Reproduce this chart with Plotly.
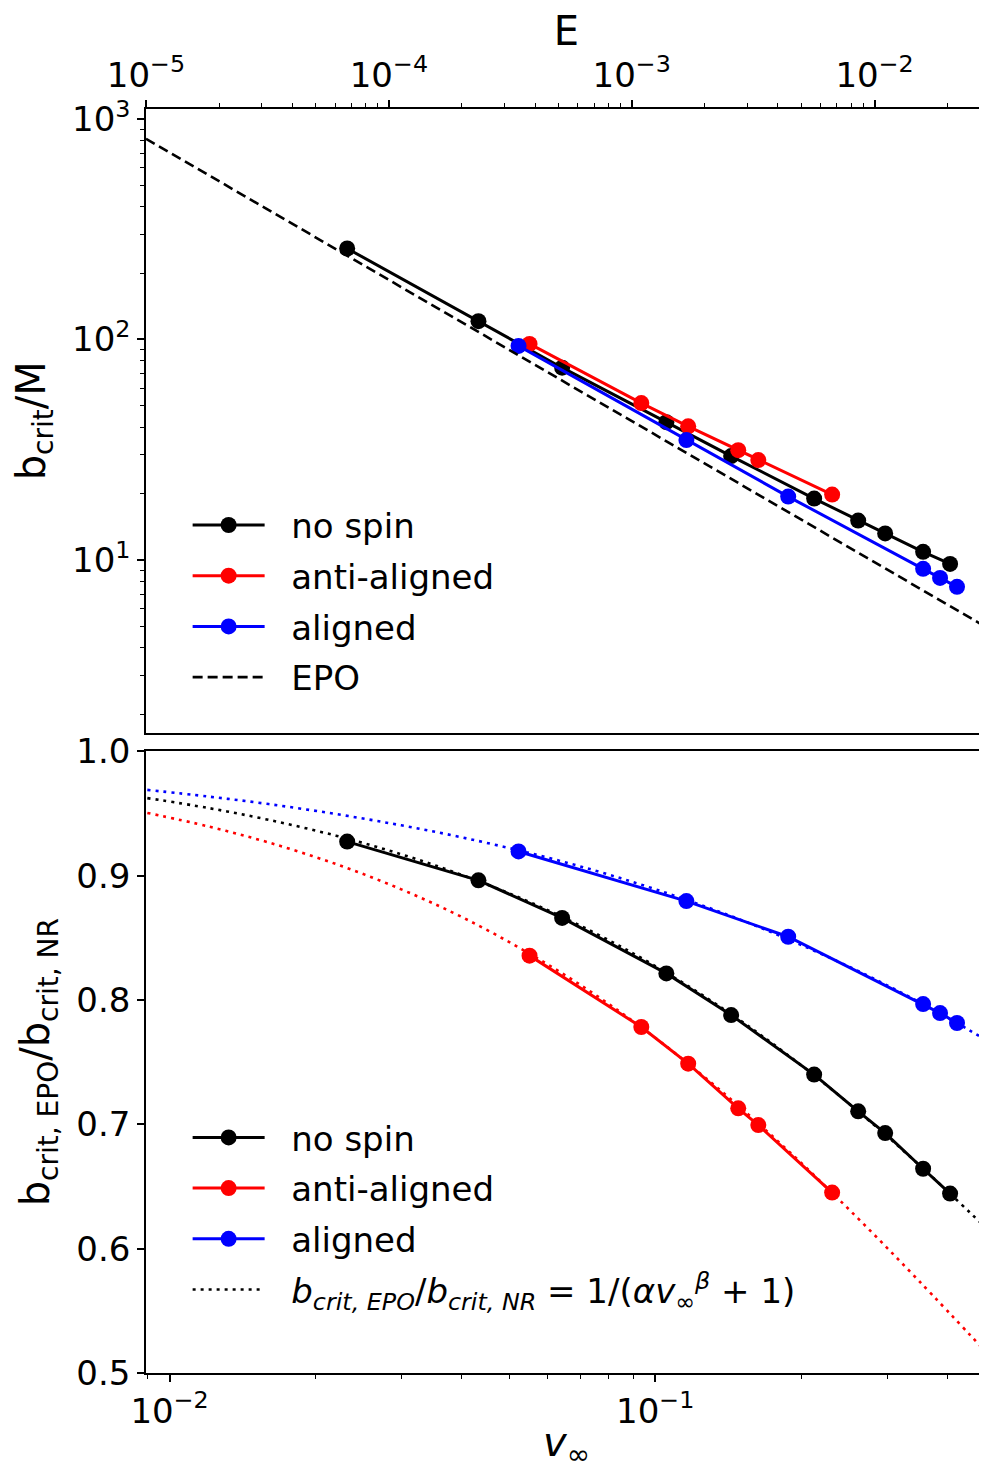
import numpy as np
import plotly.graph_objects as go

# ---------------- data ----------------
# no spin
v_nospin = [0.02321, 0.04325, 0.0643, 0.1054, 0.1433, 0.2124, 0.2617, 0.2974, 0.3560, 0.4046]
b_nospin = [258.6, 121.1, 74.5, 42.2, 29.6, 19.0, 15.1, 13.2, 10.9, 9.6]
r_nospin = [0.9274, 0.8963, 0.8660, 0.8214, 0.7879, 0.7400, 0.7105, 0.6930, 0.6643, 0.6443]
# anti-aligned
v_anti = [0.0551, 0.0936, 0.1169, 0.1482, 0.1630, 0.2313]
b_anti = [95.5, 51.5, 40.4, 31.5, 28.4, 19.8]
r_anti = [0.8357, 0.7783, 0.7488, 0.7129, 0.6994, 0.6451]
# aligned
v_al = [0.0523, 0.1159, 0.1878, 0.356, 0.3858, 0.4181]
b_al = [93.5, 35.0, 19.4, 9.12, 8.30, 7.56]
r_al = [0.9195, 0.8796, 0.8509, 0.7967, 0.7895, 0.7815]
# EPO line (end points read at the panel edges)
v_epo = [0.008944, 0.482]
b_epo = [813.0, 4.94]
# dotted fit curves
v_fit = [0.009, 0.012, 0.016, 0.022, 0.03, 0.04, 0.055, 0.075, 0.1, 0.14, 0.19, 0.26, 0.35, 0.482]
r_fit_nospin = [0.9624, 0.9545, 0.9449, 0.9322, 0.9172, 0.9006, 0.8790, 0.8540, 0.8273, 0.7913, 0.7540, 0.7114, 0.6671, 0.6159]
r_fit_al = [0.9690, 0.9637, 0.9576, 0.9496, 0.9405, 0.9308, 0.9183, 0.9042, 0.8891, 0.8690, 0.8480, 0.8238, 0.7982, 0.7675]
r_fit_anti = [0.9505, 0.9397, 0.9267, 0.9094, 0.8890, 0.8667, 0.8375, 0.8046, 0.7696, 0.7234, 0.6769, 0.6253, 0.5736, 0.5160]

# tick labels
E_ticks = [1e-5, 1e-4, 1e-3, 1e-2]
E_ticktext = ["10<sup>−5</sup>", "10<sup>−4</sup>", "10<sup>−3</sup>", "10<sup>−2</sup>"]
b_ticks = [10, 100, 1000]
b_ticktext = ["10<sup>1</sup>", "10<sup>2</sup>", "10<sup>3</sup>"]
v_ticks = [0.01, 0.1]
v_ticktext = ["10<sup>−2</sup>", "10<sup>−1</sup>"]

# ---------------- styling ----------------
FONT = "DejaVu Sans"
TICKFONT = 34
LEGFONT = 34
TITLEFONT = 40
LW = 3
MS = 16
BLACK, RED, BLUE = "#000000", "#ff0000", "#0000ff"
PAD = "\u00a0\u00a0"

xlog_range = [-2.0485, -0.317]
E_range = [2 * xlog_range[0] - np.log10(8), 2 * xlog_range[1] - np.log10(8)]


def minor_vals(lo, hi):
    vals = []
    for d in range(lo, hi + 1):
        for k in range(2, 10):
            vals.append(k * 10.0 ** d)
    return vals


fig = go.Figure()

# ---- top panel ----
fig.add_trace(go.Scatter(x=v_nospin, y=b_nospin, mode="lines+markers", name=PAD + "no spin",
                         line=dict(color=BLACK, width=LW), marker=dict(size=MS, color=BLACK),
                         xaxis="x", yaxis="y", legend="legend", legendgroup="a1"))
fig.add_trace(go.Scatter(x=v_anti, y=b_anti, mode="lines+markers", name=PAD + "anti-aligned",
                         line=dict(color=RED, width=LW), marker=dict(size=MS, color=RED),
                         xaxis="x", yaxis="y", legend="legend", legendgroup="a2"))
fig.add_trace(go.Scatter(x=v_al, y=b_al, mode="lines+markers", name=PAD + "aligned",
                         line=dict(color=BLUE, width=LW), marker=dict(size=MS, color=BLUE),
                         xaxis="x", yaxis="y", legend="legend", legendgroup="a3"))
fig.add_trace(go.Scatter(x=v_epo, y=b_epo, mode="lines", name=PAD + "EPO",
                         line=dict(color=BLACK, width=2.6, dash="10px,5px"),
                         xaxis="x", yaxis="y", legend="legend", legendgroup="a4"))
# invisible helper so that the energy axis (E = v^2/8) on top is drawn
fig.add_trace(go.Scatter(x=[v * v / 8 for v in v_epo], y=b_epo, mode="lines", opacity=0,
                         showlegend=False, hoverinfo="skip", xaxis="x3", yaxis="y"))

# ---- bottom panel ----
fig.add_trace(go.Scatter(x=v_fit, y=r_fit_al, mode="lines", showlegend=False,
                         line=dict(color=BLUE, width=2.6, dash="3px,5px", shape="spline"),
                         xaxis="x2", yaxis="y2"))
fig.add_trace(go.Scatter(x=v_fit, y=r_fit_anti, mode="lines", showlegend=False,
                         line=dict(color=RED, width=2.6, dash="3px,5px", shape="spline"),
                         xaxis="x2", yaxis="y2"))
fig.add_trace(go.Scatter(x=v_nospin, y=r_nospin, mode="lines+markers", name=PAD + "no spin",
                         line=dict(color=BLACK, width=LW), marker=dict(size=MS, color=BLACK),
                         xaxis="x2", yaxis="y2", legend="legend2", legendgroup="b1"))
fig.add_trace(go.Scatter(x=v_anti, y=r_anti, mode="lines+markers", name=PAD + "anti-aligned",
                         line=dict(color=RED, width=LW), marker=dict(size=MS, color=RED),
                         xaxis="x2", yaxis="y2", legend="legend2", legendgroup="b2"))
fig.add_trace(go.Scatter(x=v_al, y=r_al, mode="lines+markers", name=PAD + "aligned",
                         line=dict(color=BLUE, width=LW), marker=dict(size=MS, color=BLUE),
                         xaxis="x2", yaxis="y2", legend="legend2", legendgroup="b3"))
fig.add_trace(go.Scatter(x=v_fit, y=r_fit_nospin, mode="lines",
                         name=(PAD + "<i>b</i><sub><i>crit, EPO</i></sub>/<i>b</i><sub><i>crit, NR</i></sub>"
                               " = 1/(<i>αv</i><sub>∞</sub><sup><i>β</i></sup> + 1)"),
                         line=dict(color=BLACK, width=2.6, dash="3px,5px", shape="spline"),
                         xaxis="x2", yaxis="y2", legend="legend2", legendgroup="b4"))

axis_common = dict(showline=True, linecolor="black", linewidth=1.5, ticks="outside",
                   ticklen=7, tickwidth=1.5, tickcolor="black", showgrid=False, zeroline=False,
                   tickfont=dict(family=FONT, size=TICKFONT, color="black"))
minor_common = dict(ticks="outside", ticklen=4, tickwidth=1, tickcolor="black",
                    tickmode="array", showgrid=False)

top_dom = [0.5067, 1.0]
bot_dom = [0.0, 0.4918]

fig.update_layout(
    width=979, height=1463,
    margin=dict(l=138, r=0, t=90, b=98),
    paper_bgcolor="white", plot_bgcolor="white",
    font=dict(family=FONT, color="black"),
    xaxis=dict(type="log", range=xlog_range, domain=[0, 1], anchor="y",
               showline=True, linecolor="black", linewidth=1.5, ticks="",
               showticklabels=False, showgrid=False, zeroline=False),
    xaxis3=dict(type="log", range=E_range, overlaying="x", side="top", anchor="y",
                tickmode="array", tickvals=E_ticks, ticktext=E_ticktext,
                minor=dict(tickvals=minor_vals(-5, -2), **minor_common),
                title=dict(text="E", font=dict(family=FONT, size=TITLEFONT), standoff=14),
                **axis_common),
    yaxis=dict(type="log", range=[0.218, 3.045], domain=top_dom, anchor="x",
               tickmode="array", tickvals=b_ticks, ticktext=b_ticktext,
               minor=dict(tickvals=minor_vals(0, 2), **minor_common),
               title=dict(text="b<sub>crit</sub>/M", font=dict(family=FONT, size=TITLEFONT), standoff=14),
               **axis_common),
    xaxis2=dict(type="log", range=xlog_range, domain=[0, 1], anchor="y2", matches="x",
                mirror=True, tickmode="array", tickvals=v_ticks, ticktext=v_ticktext,
                minor=dict(tickvals=minor_vals(-3, -1), **minor_common),
                title=dict(text="<i>v</i><sub>∞</sub>", font=dict(family=FONT, size=TITLEFONT), standoff=8),
                **axis_common),
    yaxis2=dict(range=[0.5, 1.0], domain=bot_dom, anchor="x2", dtick=0.1, tickformat=".1f",
                title=dict(text="b<sub>crit, EPO</sub>/b<sub>crit, NR</sub>",
                           font=dict(family=FONT, size=TITLEFONT), standoff=14),
                **axis_common),
    legend=dict(x=0.0495, y=0.6935, xanchor="left", yanchor="top",
                bgcolor="rgba(0,0,0,0)", font=dict(family=FONT, size=LEGFONT),
                tracegroupgap=3.5, itemwidth=72),
    legend2=dict(x=0.0495, y=0.2090, xanchor="left", yanchor="top",
                 bgcolor="rgba(0,0,0,0)", font=dict(family=FONT, size=LEGFONT),
                 tracegroupgap=3.5, itemwidth=72),
    showlegend=True,
)

fig.write_html("out.html")
